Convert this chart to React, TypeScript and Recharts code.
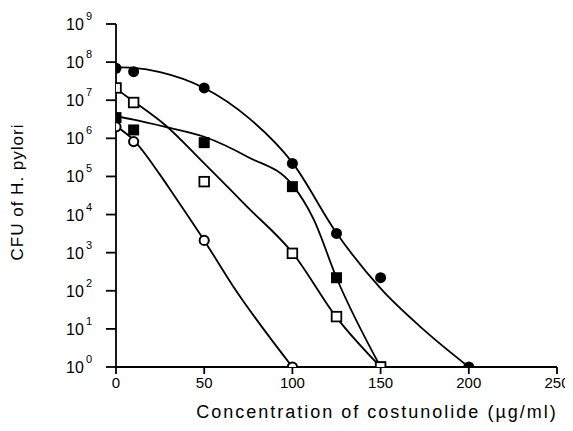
import React from 'react';
import { ComposedChart, Line, Scatter, XAxis, YAxis } from 'recharts';

// Axis ticks
const xTicks = [0, 50, 100, 150, 200, 250];
const yTicks = [1, 10, 1e2, 1e3, 1e4, 1e5, 1e6, 1e7, 1e8, 1e9];
const yTickExponents = ['0', '1', '2', '3', '4', '5', '6', '7', '8', '9'];

// Measured points (concentration µg/ml, CFU)
const filledCirclePoints = [
  { x: 0, y: 6.9e7 },
  { x: 10, y: 5.6e7 },
  { x: 50, y: 2.1e7 },
  { x: 100, y: 2.2e5 },
  { x: 125, y: 3.2e3 },
  { x: 150, y: 220 },
  { x: 200, y: 1 },
];
const openSquarePoints = [
  { x: 0, y: 2.1e7 },
  { x: 10, y: 8.7e6 },
  { x: 50, y: 7.3e4 },
  { x: 100, y: 960 },
  { x: 125, y: 21 },
  { x: 150, y: 1 },
];
const filledSquarePoints = [
  { x: 0, y: 3.5e6 },
  { x: 10, y: 1.66e6 },
  { x: 50, y: 7.7e5 },
  { x: 100, y: 5.4e4 },
  { x: 125, y: 220 },
  { x: 150, y: 1 },
];
const openCirclePoints = [
  { x: 0, y: 2e6 },
  { x: 10, y: 8.2e5 },
  { x: 50, y: 2.1e3 },
  { x: 100, y: 1 },
];

// Fitted curves
const filledCircleCurve = [
  { x: 0, y: 7.4e7 },
  { x: 10, y: 7.1e7 },
  { x: 25, y: 5.5e7 },
  { x: 50, y: 2.1e7 },
  { x: 75, y: 3.5e6 },
  { x: 100, y: 2.3e5 },
  { x: 125, y: 3.3e3 },
  { x: 150, y: 115 },
  { x: 175, y: 9 },
  { x: 200, y: 1 },
];
const filledSquareCurve = [
  { x: 0, y: 3.8e6 },
  { x: 10, y: 3.1e6 },
  { x: 28, y: 2.0e6 },
  { x: 50, y: 1.1e6 },
  { x: 75, y: 3.2e5 },
  { x: 100, y: 6.0e4 },
  { x: 112, y: 7.6e3 },
  { x: 125, y: 220 },
  { x: 150, y: 1 },
];
const openSquareCurve = [
  { x: 0, y: 2e7 },
  { x: 10, y: 9.3e6 },
  { x: 28, y: 2.2e6 },
  { x: 50, y: 2.2e5 },
  { x: 75, y: 1.5e4 },
  { x: 100, y: 1e3 },
  { x: 125, y: 20 },
  { x: 150, y: 1 },
];
const openCircleCurve = [
  { x: 0, y: 2.1e6 },
  { x: 10, y: 9e5 },
  { x: 25, y: 1.1e5 },
  { x: 32, y: 3.7e4 },
  { x: 50, y: 2.1e3 },
  { x: 66, y: 140 },
  { x: 100, y: 1 },
];

const FONT = '"Liberation Sans", Arial, Helvetica, sans-serif';

const FilledCircle = (p: any) => <circle cx={p.cx} cy={p.cy} r={5.5} fill="#000" />;
const OpenCircle = (p: any) => (
  <circle cx={p.cx} cy={p.cy} r={4.6} fill="#fff" stroke="#000" strokeWidth={2} />
);
const FilledSquare = (p: any) => (
  <rect x={p.cx - 5.5} y={p.cy - 5.5} width={11} height={11} fill="#000" />
);
const OpenSquare = (p: any) => (
  <rect x={p.cx - 4.8} y={p.cy - 4.8} width={9.6} height={9.6} fill="#fff" stroke="#000" strokeWidth={1.8} />
);

const YTick = (props: any) => {
  const { x, y, index } = props;
  return (
    <text x={x - 12} y={y + 6} textAnchor="end" fontFamily={FONT} fontSize={16} fill="#000">
      10
      <tspan dx={2} dy={-10} fontSize={11}>
        {yTickExponents[index]}
      </tspan>
    </text>
  );
};

const XTick = (props: any) => {
  const { x, y, payload } = props;
  return (
    <text x={x} y={y + 12} textAnchor="middle" fontFamily={FONT} fontSize={15} fill="#000">
      {payload.value}
    </text>
  );
};

const curveProps = {
  type: 'monotone' as const,
  dataKey: 'y',
  stroke: '#000',
  strokeWidth: 1.8,
  dot: false,
  activeDot: false,
  isAnimationActive: false,
  legendType: 'none' as const,
};

export default function App() {
  return (
    <div style={{ width: 565, height: 423, position: 'relative' }}>
      <ComposedChart
        width={565}
        height={423}
        margin={{ top: 16, right: 16, bottom: 0, left: 0 }}
      >
        <XAxis
          type="number"
          dataKey="x"
          domain={[0, 250]}
          ticks={xTicks}
          interval={0}
          tickSize={7}
          tickMargin={2}
          height={64}
          axisLine={{ stroke: '#000', strokeWidth: 1.8 }}
          tickLine={{ stroke: '#000', strokeWidth: 1.8 }}
          tick={<XTick />}
          allowDataOverflow
        />
        <YAxis
          type="number"
          dataKey="y"
          scale="log"
          domain={[1, 1e9]}
          ticks={yTicks}
          interval={0}
          tickSize={10}
          tickMargin={2}
          width={108}
          axisLine={{ stroke: '#000', strokeWidth: 1.8 }}
          tickLine={{ stroke: '#000', strokeWidth: 1.8 }}
          tick={<YTick />}
          allowDataOverflow
        />
        <Line data={filledCircleCurve} {...curveProps} />
        <Line data={filledSquareCurve} {...curveProps} />
        <Line data={openSquareCurve} {...curveProps} />
        <Line data={openCircleCurve} {...curveProps} />
        <Scatter data={filledCirclePoints} dataKey="y" shape={<FilledCircle />} isAnimationActive={false} />
        <Scatter data={filledSquarePoints} dataKey="y" shape={<FilledSquare />} isAnimationActive={false} />
        <Scatter data={openSquarePoints} dataKey="y" shape={<OpenSquare />} isAnimationActive={false} />
        <Scatter data={openCirclePoints} dataKey="y" shape={<OpenCircle />} isAnimationActive={false} />
        <text
          x={17 - 8}
          y={192 - 8}
          transform={`rotate(-90, ${17 - 8}, ${192 - 8})`}
          textAnchor="middle"
          dominantBaseline="central"
          fontFamily={FONT}
          fontSize={17}
          letterSpacing={1}
          fill="#000"
        >
          CFU of H. pylori
        </text>
        <text
          x={377 - 8}
          y={418 - 8}
          textAnchor="middle"
          fontFamily={FONT}
          fontSize={18}
          letterSpacing={2}
          fill="#000"
        >
          Concentration of costunolide (µg/ml)
        </text>
      </ComposedChart>
    </div>
  );
}
